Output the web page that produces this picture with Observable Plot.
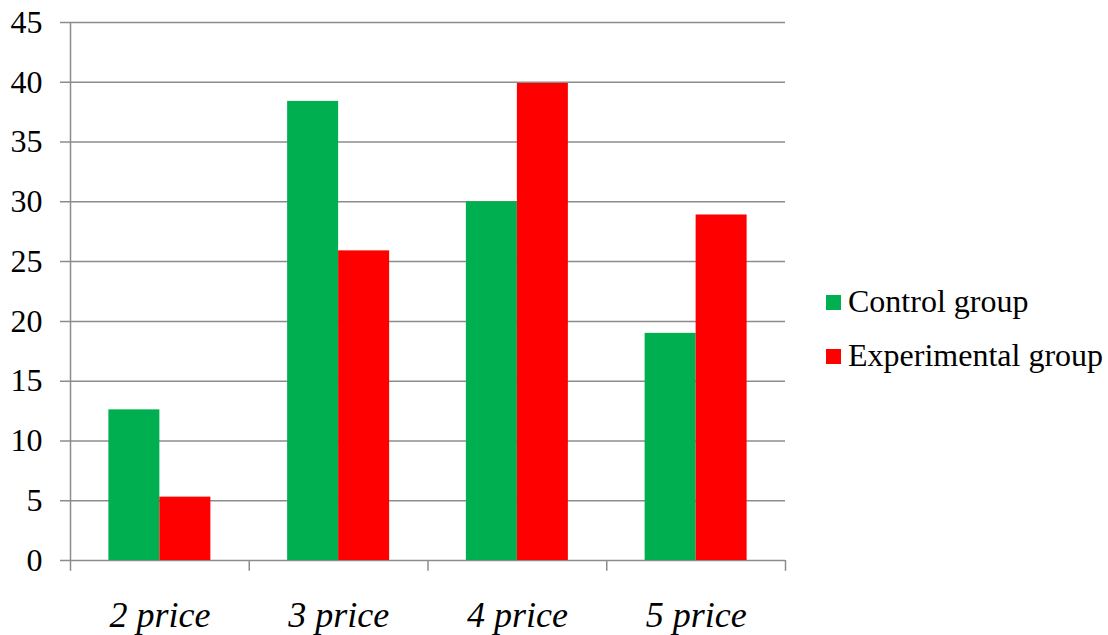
<!DOCTYPE html>
<html>
<head>
<meta charset="utf-8">
<script src="https://cdn.jsdelivr.net/npm/d3@7"></script>
<script src="https://cdn.jsdelivr.net/npm/@observablehq/plot@0.6"></script>
<style>
  html, body { margin: 0; padding: 0; background: #fff; }
  #wrap { position: relative; width: 1108px; height: 635px; font-family: "Liberation Serif", "Times New Roman", serif; }
  #legend { position: absolute; left: 826px; top: 274px; color: #000; font-size: 32px; line-height: 54px; }
  .item { display: flex; align-items: center; height: 54px; }
  .sw { width: 15px; height: 15px; margin-right: 7px; margin-top: 2px; }
</style>
</head>
<body>
<div id="wrap"><div id="legend"></div></div>
<script>
const categories = ["2 price", "3 price", "4 price", "5 price"];
const seriesNames = ["Control group", "Experimental group"];
const control = [12.6, 38.4, 30.0, 19.0];
const experimental = [5.3, 25.9, 39.9, 28.9];
const yTicks = [0, 5, 10, 15, 20, 25, 30, 35, 40, 45];
const colors = ["#00b050", "#ff0000"];

const W = 1108, H = 635, mL = 70, mR = 323, mT = 22, mB = 75;
const step = (W - mL - mR) / categories.length;
const pInner = 0.4294, pOuter = pInner / 2;
const bandW = step * (1 - pInner);

const ctrl = categories.map((c, i) => ({cat: c, v: control[i]}));
const exp = categories.map((c, i) => ({cat: c, v: experimental[i]}));
const gridColor = "#8c8c8c";

const chart = Plot.plot({
  width: W, height: H,
  marginLeft: mL, marginRight: mR, marginTop: mT, marginBottom: mB,
  style: {fontFamily: "'Liberation Serif', 'Times New Roman', serif", background: "transparent", color: "#000"},
  x: {domain: categories, paddingInner: pInner, paddingOuter: pOuter, round: false, axis: null},
  y: {domain: [0, 45], axis: null},
  marks: [
    Plot.ruleY(yTicks, {y: d => d, stroke: gridColor, strokeWidth: 1.5, insetLeft: -10}),
    Plot.barY(ctrl, {x: "cat", y: "v", fill: colors[0], insetRight: bandW / 2}),
    Plot.barY(exp, {x: "cat", y: "v", fill: colors[1], insetLeft: bandW / 2}),
    Plot.ruleX([categories[0]], {x: d => d, y1: -0.9, y2: 45, dx: -step / 2, stroke: gridColor, strokeWidth: 1.5}),
    Plot.ruleX(categories.slice(1), {x: d => d, y1: -0.9, y2: 0, dx: -step / 2, stroke: gridColor, strokeWidth: 1.5}),
    Plot.ruleX([categories[categories.length - 1]], {x: d => d, y1: -0.9, y2: 0, dx: step / 2, stroke: gridColor, strokeWidth: 1.5}),
    Plot.text(yTicks, {y: d => d, text: d => String(d), frameAnchor: "left", dx: -28, textAnchor: "end", fontSize: 32, fill: "#000"}),
    Plot.text(categories, {x: d => d, y: 0, text: d => d, dy: 55, fontSize: 36, fontStyle: "italic", fill: "#000"})
  ]
});
document.getElementById("wrap").prepend(chart);

const legend = document.getElementById("legend");
seriesNames.forEach((name, i) => {
  const item = document.createElement("div");
  item.className = "item";
  const sw = document.createElement("span");
  sw.className = "sw";
  sw.style.background = colors[i];
  const t = document.createElement("span");
  t.textContent = name;
  item.append(sw, t);
  legend.append(item);
});
</script>
</body>
</html>
